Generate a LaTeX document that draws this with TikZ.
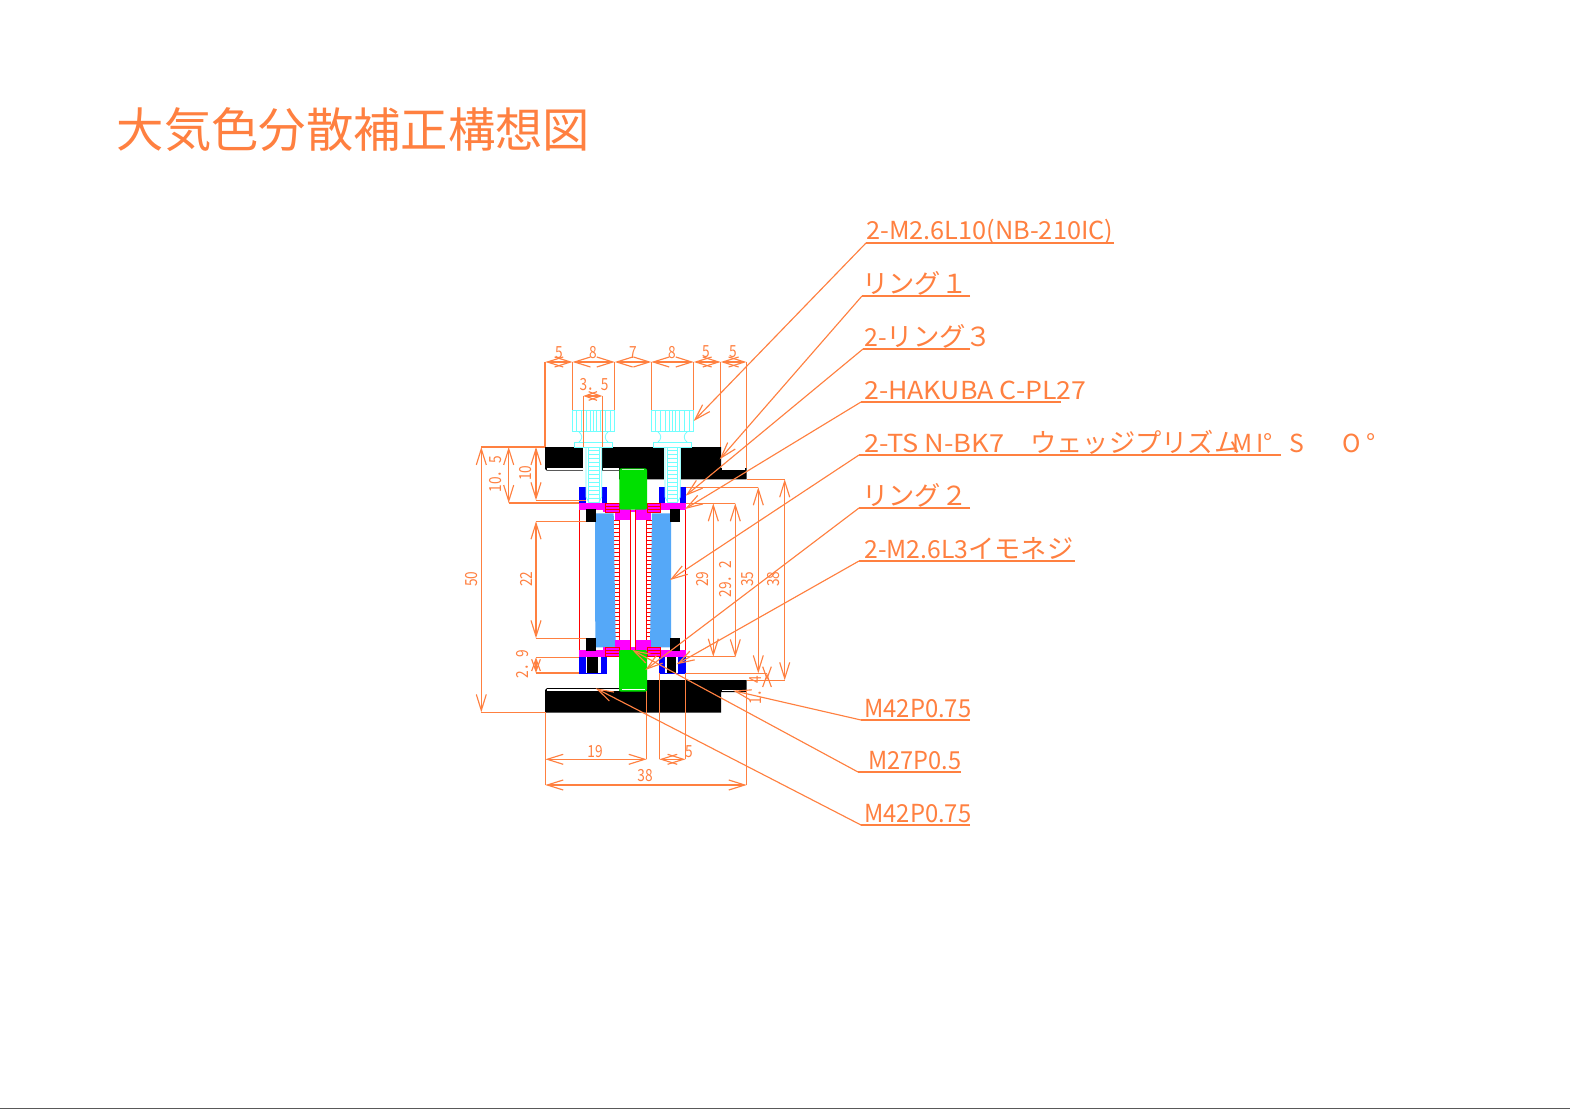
\documentclass[tikz,border=0pt]{standalone}
\usepackage{fontspec}
\usepackage{graphicx}
\setmainfont{Noto Sans CJK JP}
\usetikzlibrary{arrows.meta}
\definecolor{dimc}{RGB}{255,128,64}
\definecolor{scr}{RGB}{112,255,255}
\definecolor{prism}{RGB}{85,168,248}
\definecolor{grn}{RGB}{0,224,0}
\definecolor{mag}{RGB}{255,0,255}
\definecolor{blu}{RGB}{0,0,255}
\definecolor{rd}{RGB}{255,0,0}
\tikzset{
  ln/.style={draw=dimc,line width=0.85pt},
  dimline/.style={ln,{Straight Barb[length=12pt,width=7.5pt]}-{Straight Barb[length=12pt,width=7.5pt]}},
  tinydim/.style={ln,{Straight Barb[length=9pt,width=6.5pt]}-{Straight Barb[length=9pt,width=6.5pt]}},
  leadline/.style={ln,-{Straight Barb[length=12pt,width=7.5pt]}},
  lab/.style={inner sep=0pt,text=dimc,anchor=base west},
  dimtext/.style={inner sep=0pt,text=dimc,font=\fontsize{12.5pt}{13pt}\selectfont},
  redl/.style={draw=rd,line width=0.75pt},
  scrl/.style={draw=scr,line width=0.6pt},
}
\newcommand{\fitw}[2]{\resizebox{\dimexpr #1pt*3/4\relax}{\height}{#2}}
\newcommand{\nar}[1]{\scalebox{0.82}[1]{#1}}
\newcommand{\Rect}[5]{\fill[#1] (#2,#3) rectangle (#4,#5);}
\newcommand{\kana}{\fontsize{19.7pt}{20pt}\selectfont}
% name, x1, x2, y of the rule, target x, target y
\newcommand{\callout}[6]{%
  \coordinate (#1a) at (#2,#4);
  \coordinate (#1b) at (#3,#4);
  \coordinate (#1t) at (#5,#6);
  \draw[ln] (#1b) -- (#1a);
  \draw[leadline] (#1a) -- (#1t);
}
% name, x1, y1, x2, y2, style
\newcommand{\dimseg}[6]{%
  \coordinate (#1s) at (#2,#3);
  \coordinate (#1e) at (#4,#5);
  \draw[#6] (#1s) -- (#1e);
}
\newcommand{\headscrew}[3]{% head left x, shaft left x, shaft right x
  \begin{scope}[shift={(#1,0)}]
    \draw[scrl] (0,410) rectangle (42.4,431.7);
    \foreach \k in {4,9,14,18,21,24.4,28.4,33.4,38.4} {\draw[scrl] (\k,410) -- (\k,431.7);}
    \draw[scrl] (6.5,431.7) .. controls (10.5,435) and (10.5,439) .. (6.5,442.3);
    \draw[scrl] (35.9,431.7) .. controls (31.9,435) and (31.9,439) .. (35.9,442.3);
    \draw[scrl,fill=white] (2,442.3) rectangle (40.4,447.7);
  \end{scope}
  \fill[white] (#2,447.7) rectangle (#3,503);
  \draw[scrl] (#2,447.7) -- (#2,497) -- (#2+3,502.5) -- (#3-3,502.5) -- (#3,497) -- (#3,447.7);
  \draw[scrl] (#2+2.8,447.7) -- (#2+2.8,502.5);
  \draw[scrl] (#3-2.8,447.7) -- (#3-2.8,502.5);
  \foreach \r in {450,454,...,500} {\draw[scrl] (#2+2.8,\r) -- (#3-2.8,\r);}
}
\begin{document}
\begin{tikzpicture}[x=0.75pt,y=-0.75pt]
\useasboundingbox (0,0) rectangle (1570,1109);
\fill[white] (0,0) rectangle (1570,1109);
\fill[black!65] (0,1108) rectangle (1570,1109);

% title
\node[lab,font=\fontsize{35.5pt}{36pt}\selectfont] (title) at (116.5,148) {大気色分散補正構想図};

% ---------- red housing and threads
\foreach \r in {520,524,...,640} {
  \draw[redl,line width=0.6pt] (611,\r) -- (619.7,\r);
  \draw[redl,line width=0.6pt] (646.7,\r) -- (654,\r);
}
\draw[redl] (619.7,510) -- (619.7,650);
\draw[redl] (646.7,510) -- (646.7,650);
\draw[redl] (630.3,510) -- (630.3,650);
\draw[redl] (635.3,510) -- (635.3,650);
\draw[redl] (579,510) -- (579,650);
\draw[redl] (685.7,510) -- (685.7,650);

% wedge prisms
\fill[prism] (595,513.3) -- (613.7,513.3) -- (615.7,647.3) -- (595.3,647.3) -- cycle;
\fill[prism] (652,513.3) -- (671,513.3) -- (671,647.3) -- (650,647.3) -- cycle;

% magenta rings
\Rect{mag}{579}{503}{685.7}{509.7}
\Rect{mag}{603}{503}{660}{512}
\Rect{mag}{615}{509.7}{630.3}{519.7}
\Rect{mag}{635.3}{509.7}{651}{519.7}
\Rect{mag}{579}{650}{685.7}{656.7}
\Rect{mag}{603}{646.7}{660}{656.7}
\Rect{mag}{615}{640}{630.3}{650}
\Rect{mag}{635.3}{640}{651}{650}
\draw[redl,line width=0.6pt] (630.3,510) -- (630.3,520) (635.3,510) -- (635.3,520)
  (630.3,640) -- (630.3,650) (635.3,640) -- (635.3,650);
\fill[white] (630.8,503) rectangle (634.8,509.7);
\foreach \a/\b in {605.7/619,647/660} {
  \draw[redl] (\a,503) rectangle (\b,512);
  \draw[redl,line width=0.6pt] (\a,506) -- (\b,506) (\a,509) -- (\b,509);
  \draw[redl] (\a,647) rectangle (\b,656.7);
  \draw[redl,line width=0.6pt] (\a,650) -- (\b,650) (\a,653.3) -- (\b,653.3);
}

% black O-rings
\Rect{black}{586}{509.3}{596}{522}
\Rect{black}{670}{509.3}{680}{522}
\Rect{black}{586}{638}{596}{650.7}
\Rect{black}{670}{638}{680}{650.7}

% blue nuts
\Rect{blu}{579}{487}{607}{503}
\Rect{blu}{659}{487}{686}{503}
\Rect{blu}{579.3}{656.7}{606.7}{673.7}
\Rect{blu}{659}{656.7}{686}{673.7}
\Rect{white}{585.5}{657}{600.5}{673}
\Rect{black}{587.3}{657}{598.3}{673}
\Rect{white}{665}{657}{677.5}{673}
\Rect{black}{667}{657}{675.7}{673}

% top plate
\fill[black] (545,447) -- (721,447) -- (721,468) -- (746.7,468) -- (746.7,479.3)
  -- (619,479.3) -- (619,470.5) -- (546.5,470.5) -- (545,469) -- cycle;
\Rect{white}{547}{468}{583.3}{469.5}
\Rect{white}{603}{468}{619}{469.5}
\Rect{white}{722}{468.3}{745}{470}
\Rect{white}{583.3}{447}{602.3}{487}
\Rect{white}{664.3}{447}{681}{487}

% bottom plate
\fill[black] (545,712.7) -- (721,712.7) -- (721,692) -- (746.7,692) -- (746.7,680)
  -- (646.7,680) -- (646.7,688) -- (547,688) -- (545,690) -- cycle;
\Rect{white}{547}{689}{619}{690.7}
\Rect{white}{722}{689.5}{745}{691}

% green spacers
\fill[grn,rounded corners=1.5pt] (619.3,468.3) rectangle (647,509.7);
\fill[grn,rounded corners=1.5pt] (619,650) rectangle (647,691.7);
\Rect{white}{622}{689.2}{645}{690.4}
\Rect{white!70!grn}{622}{468.6}{644}{469.6}

% screws
\headscrew{572.3}{586}{601.7}
\headscrew{651.3}{665}{680.3}

% ---------- extension lines
\draw[ln]
  (545,362) -- (545,447)
  (572.5,362) -- (572.5,410)
  (614.7,362) -- (614.7,410)
  (651.3,362) -- (651.3,410)
  (693.7,362) -- (693.7,410)
  (720.7,362) -- (720.7,447)
  (746.5,362) -- (746.5,468)
  (583.3,396) -- (583.3,447)
  (602.3,396) -- (602.3,447)
  (481.3,447) -- (545,447)
  (481.3,712.3) -- (545,712.3)
  (508.7,503) -- (579,503)
  (536,500.3) -- (586,500.3)
  (536,521.3) -- (586,521.3)
  (536,638.3) -- (586,638.3)
  (536,657.3) -- (579,657.3)
  (536,673) -- (579,673)
  (685.7,503.3) -- (735.3,503.3)
  (685.7,656.7) -- (735.3,656.7)
  (686,487.3) -- (758.3,487.3)
  (686,673.3) -- (767,673.3)
  (746.7,479.3) -- (784.7,479.3)
  (746.7,680.3) -- (784.7,680.3)
  (545.3,712) -- (545.3,785)
  (646.7,691) -- (646.7,759.3)
  (746.7,691) -- (746.7,785)
  (659.3,673) -- (659.3,759.3)
  (685.5,673) -- (685.5,759.3);

% ---------- dimension lines
\dimseg{da}{545.3}{362}{572.5}{362}{dimline}
\dimseg{db}{572.5}{362}{614.7}{362}{dimline}
\dimseg{dc}{614.7}{362}{651.3}{362}{dimline}
\dimseg{dd}{651.3}{362}{693.7}{362}{dimline}
\dimseg{de}{693.7}{362}{720.7}{362}{dimline}
\dimseg{df}{720.7}{362}{746.5}{362}{dimline}
\dimseg{dg}{583.3}{396}{602.3}{396}{tinydim}
\dimseg{dh}{481.3}{447}{481.3}{712.3}{dimline}
\dimseg{di}{508.7}{447}{508.7}{503}{dimline}
\dimseg{dj}{536}{447}{536}{500.3}{dimline}
\dimseg{dk}{536}{521.3}{536}{638.3}{dimline}
\dimseg{dl}{536}{657.3}{536}{673}{tinydim}
\dimseg{dm}{713.3}{503.3}{713.3}{656.7}{dimline}
\dimseg{dn}{735.3}{503.3}{735.3}{657.3}{dimline}
\dimseg{do}{758.3}{487.3}{758.3}{673.3}{dimline}
\dimseg{dp}{784.7}{479.3}{784.7}{680.3}{dimline}
\dimseg{dq}{767}{673.3}{767}{680.3}{tinydim}
\dimseg{dr}{545.3}{759.3}{646.7}{759.3}{dimline}
\dimseg{ds}{659.3}{759.3}{685.5}{759.3}{dimline}
\dimseg{dt}{545.3}{785}{746.7}{785}{dimline}

% ---------- dimension texts
\node[dimtext] (ta) at (559,353) {\nar{5}};
\node[dimtext] (tb) at (593,353) {\nar{8}};
\node[dimtext] (tc) at (633,353) {\nar{7}};
\node[dimtext] (td) at (672,353) {\nar{8}};
\node[dimtext] (te) at (706,352) {\nar{5}};
\node[dimtext] (tf) at (733,352) {\nar{5}};
\node[dimtext] (tg) at (594,385) {\nar{3．5}};
\node[dimtext,rotate=90] (th) at (472,579) {\nar{50}};
\node[dimtext,rotate=90] (ti) at (496,474) {\nar{10．5}};
\node[dimtext,rotate=90] (tj) at (526,473) {\nar{10}};
\node[dimtext,rotate=90] (tk) at (526,579) {\nar{22}};
\node[dimtext,rotate=90] (tl) at (523,664) {\nar{2．9}};
\node[dimtext,rotate=90] (tm) at (703,579) {\nar{29}};
\node[dimtext,rotate=90] (tn) at (726,579) {\nar{29．2}};
\node[dimtext,rotate=90] (to) at (748,579) {\nar{35}};
\node[dimtext,rotate=90] (tp) at (774,579) {\nar{38}};
\node[dimtext,rotate=90] (tq) at (756,690) {\nar{1．4}};
\node[dimtext] (tr) at (595,752) {\nar{19}};
\node[dimtext] (ts) at (689,752) {\nar{5}};
\node[dimtext] (tt) at (645,776) {\nar{38}};

% ---------- callouts
\callout{ca}{866}{1114}{243}{693.7}{421}
\callout{cb}{862}{970}{296}{719.7}{459.3}
\callout{cc}{863}{970}{349}{685.7}{495.7}
\callout{cd}{861}{1061}{402}{685}{509}
\callout{ce}{859}{1281}{455}{670}{580}
\callout{cf}{859}{970}{508}{645.3}{670}
\callout{cg}{859}{1075}{561}{676.7}{664.3}
\callout{ch}{861}{970}{720}{733.3}{690.7}
\callout{ci}{858}{961}{772}{632.3}{650}
\callout{cj}{861}{970}{825}{595.7}{688.3}

\tikzset{every node/.append style={font=\fontsize{18.6pt}{20pt}\selectfont}}
\node[lab] (la) at (866,240) {\fitw{247}{2-M2.6L10(NB-210IC)}};
\node[lab] (lb) at (862,293) {\kana リング１};
\node[lab] (lc) at (864,346) {\fitw{128}{2-\kana リング３}};
\node[lab] (ld) at (864,399) {\fitw{222}{2-HAKUBA C-PL27}};
\node[lab] (le) at (864,452) {\fitw{140}{2-TS N-BK7}};
\node[lab] (lea) at (1030,452) {\kana ウェッジプリズム};
\node[lab] (leb) at (1232,452) {M};
\node[lab] (lec) at (1256,452) {I°};
\node[lab] (led) at (1289,452) {S};
\node[lab] (lee) at (1342,452) {O};
\node[lab] (lef) at (1366,452) {°};
\node[lab] (lf) at (862,505) {\kana リング２};
\node[lab] (lg) at (864,558) {\fitw{104}{2-M2.6L3}};
\node[lab] (lga) at (968,558) {\kana イモネジ};
\node[lab] (lh) at (864,717) {\fitw{107}{M42P0.75}};
\node[lab] (li) at (868,769) {\fitw{93}{M27P0.5}};
\node[lab] (lj) at (864,822) {\fitw{107}{M42P0.75}};
\end{tikzpicture}
\end{document}
